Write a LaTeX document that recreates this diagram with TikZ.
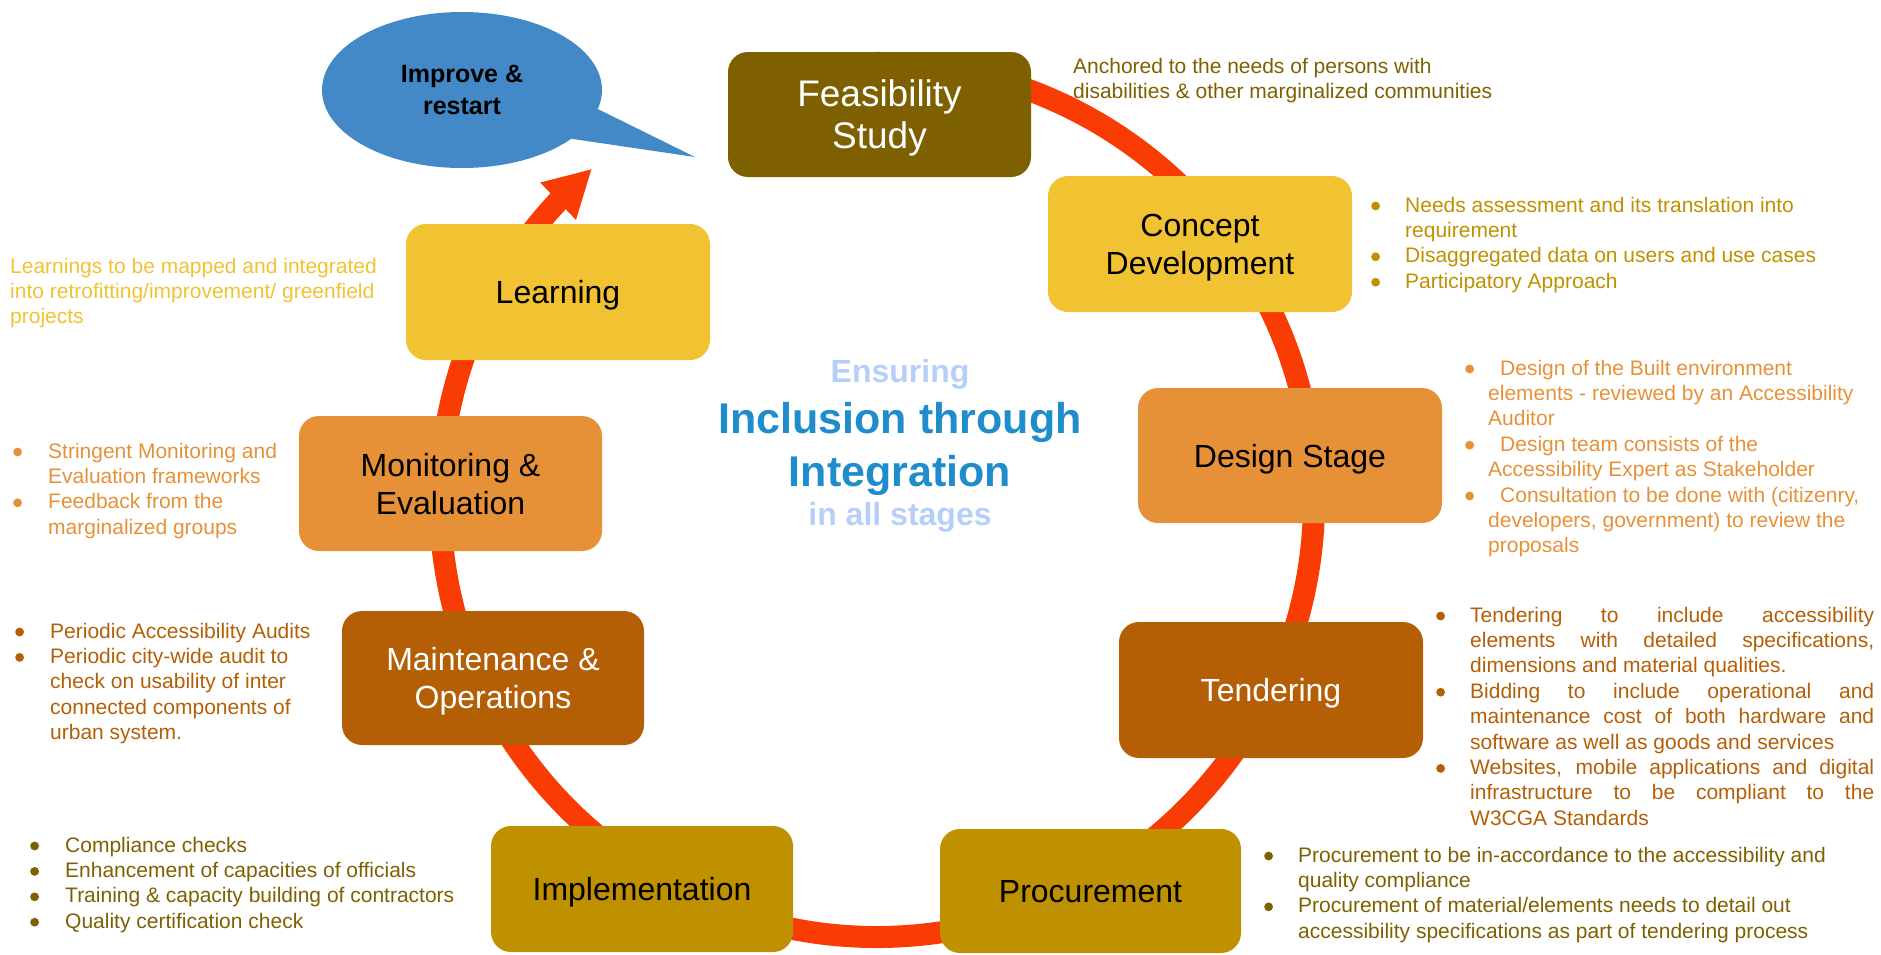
\documentclass[tikz,border=0pt]{standalone}
\usepackage{fontspec}
\setmainfont{Liberation Sans}
\usetikzlibrary{arrows.meta,bending,shapes.geometric}
\definecolor{ringc}{RGB}{248,60,4}
\definecolor{olive}{RGB}{127,96,0}
\definecolor{gold}{RGB}{191,144,0}
\definecolor{yel}{RGB}{241,194,50}
\definecolor{orng}{RGB}{230,145,56}
\definecolor{brwn}{RGB}{180,95,6}
\definecolor{bub}{RGB}{67,137,199}
\definecolor{dblue}{RGB}{31,141,204}
\definecolor{lblue}{RGB}{182,207,250}
\newcommand{\dotb}{\tikz[baseline=0pt]\fill (0pt,6pt) circle[radius=4.4pt];}
\newcommand{\myb}[1][33]{\makebox[#1pt][l]{\hspace*{-1pt}\dotb}}
\newcommand{\myc}[1][33]{\hspace*{#1pt}}
\newcommand{\jl}[1]{\makebox[404pt][s]{#1}}
\tikzset{
  stage/.style={rounded corners=20pt, inner sep=0pt, align=center, text depth=0pt,
    minimum width=304pt, minimum height=136pt, font=\fontsize{32}{38}\selectfont},
  note/.style={anchor=base west, inner sep=0pt, font=\fontsize{21}{25.4}\selectfont},
  ctitle/.style={anchor=base, inner sep=0pt}
}
\begin{document}
\begin{tikzpicture}[x=1pt,y=-1pt]
\useasboundingbox (0,0) rectangle (1881,954);
% ring
\coordinate (rc) at (877,500);
\draw[ringc, line width=22pt, -{Triangle[length=47pt,width=48pt]}]
  (rc) ++(-95:437) arc[start angle=-95, end angle=229.3, radius=437] coordinate (tip);
% bubble
\node[ellipse, fill=bub, minimum width=280pt, minimum height=156pt, inner sep=0pt,
  align=center, font=\bfseries\fontsize{25}{32}\selectfont] (bubble) at (462,90) {Improve \&\\restart};
\coordinate (btip) at (695,157);
\fill[bub] (bubble.-8) -- (btip) -- (bubble.-24) -- cycle;
% stages
\node[stage, fill=olive, text=white, minimum width=303pt, minimum height=125pt,
  font=\fontsize{37}{42}\selectfont] (feas) at (879.5,114.5) {Feasibility\\Study};
\node[stage, fill=yel] (concept) at (1200,244) {Concept\\Development};
\node[stage, fill=orng, minimum height=135pt] (design) at (1290,455.5) {Design Stage};
\node[stage, fill=brwn, text=white] (tender) at (1271,690) {Tendering};
\node[stage, fill=gold, minimum width=301pt, minimum height=124pt] (procure) at (1090.5,891) {Procurement};
\node[stage, fill=gold, minimum width=302pt, minimum height=126pt] (impl) at (642,889) {Implementation};
\node[stage, fill=brwn, text=white, minimum width=302pt, minimum height=134pt] (mo) at (493,678) {Maintenance \&\\Operations};
\node[stage, fill=orng, minimum width=303pt, minimum height=135pt] (me) at (450.5,483.5) {Monitoring \&\\Evaluation};
\node[stage, fill=yel] (learn) at (558,292) {Learning};
% centre title
\node[ctitle, text=lblue, font=\bfseries\fontsize{32}{38}\selectfont] (ens) at (900,382) {Ensuring};
\node[ctitle, text=dblue, font=\bfseries\fontsize{43}{50}\selectfont] (incl) at (900,433) {Inclusion through};
\node[ctitle, text=dblue, font=\bfseries\fontsize{43}{50}\selectfont] (integ) at (900,486) {Integration};
\node[ctitle, text=lblue, font=\bfseries\fontsize{32}{38}\selectfont] (inall) at (900,525) {in all stages};
% notes
\node[note, text=olive] (nfeas) at (1073,73) {\begin{tabular}[t]{@{}l@{}}
Anchored to the needs of persons with\\
disabilities \& other marginalized communities\end{tabular}};
\node[note, text=gold] (nconcept) at (1372,212) {\begin{tabular}[t]{@{}l@{}}
\myb Needs assessment and its translation into\\
\myc requirement\\
\myb Disaggregated data on users and use cases\\
\myb Participatory Approach\end{tabular}};
\node[note, text=orng] (ndesign) at (1466,375) {\begin{tabular}[t]{@{}l@{}}
\myb[22]\hspace*{12pt}Design of the Built environment\\
\myc[22]elements - reviewed by an Accessibility\\
\myc[22]Auditor\\
\myb[22]\hspace*{12pt}Design team consists of the\\
\myc[22]Accessibility Expert as Stakeholder\\
\myb[22]\hspace*{12pt}Consultation to be done with (citizenry,\\
\myc[22]developers, government) to review the\\
\myc[22]proposals\end{tabular}};
\node[note, text=brwn] (ntender) at (1437,622) {\begin{tabular}[t]{@{}l@{}}
\myb\jl{Tendering to include accessibility}\\
\myc\jl{elements with detailed specifications,}\\
\myc dimensions and material qualities.\\
\myb\jl{Bidding to include operational and}\\
\myc\jl{maintenance cost of both hardware and}\\
\myc software as well as goods and services\\
\myb\jl{Websites, mobile applications and digital}\\
\myc\jl{infrastructure to be compliant to the}\\
\myc W3CGA Standards\end{tabular}};
\node[note, text=olive] (nprocure) at (1265,862) {\begin{tabular}[t]{@{}l@{}}
\myb Procurement to be in-accordance to the accessibility and\\
\myc quality compliance\\
\myb Procurement of material/elements needs to detail out\\
\myc accessibility specifications as part of tendering process\end{tabular}};
\node[note, text=olive] (nimpl) at (31,852) {\begin{tabular}[t]{@{}l@{}}
\myb[34]Compliance checks\\
\myb[34]Enhancement of capacities of officials\\
\myb[34]Training \& capacity building of contractors\\
\myb[34]Quality certification check\end{tabular}};
\node[note, text=brwn] (nmo) at (16,638) {\begin{tabular}[t]{@{}l@{}}
\myb[34]Periodic Accessibility Audits\\
\myb[34]Periodic city-wide audit to\\
\myc[34]check on usability of inter\\
\myc[34]connected components of\\
\myc[34]urban system.\end{tabular}};
\node[note, text=orng] (nme) at (14,458) {\begin{tabular}[t]{@{}l@{}}
\myb[34]Stringent Monitoring and\\
\myc[34]Evaluation frameworks\\
\myb[34]Feedback from the\\
\myc[34]marginalized groups\end{tabular}};
\node[note, text=yel] (nlearn) at (10,273) {\begin{tabular}[t]{@{}l@{}}
Learnings to be mapped and integrated\\
into retrofitting/improvement/ greenfield\\
projects\end{tabular}};
\end{tikzpicture}
\end{document}
